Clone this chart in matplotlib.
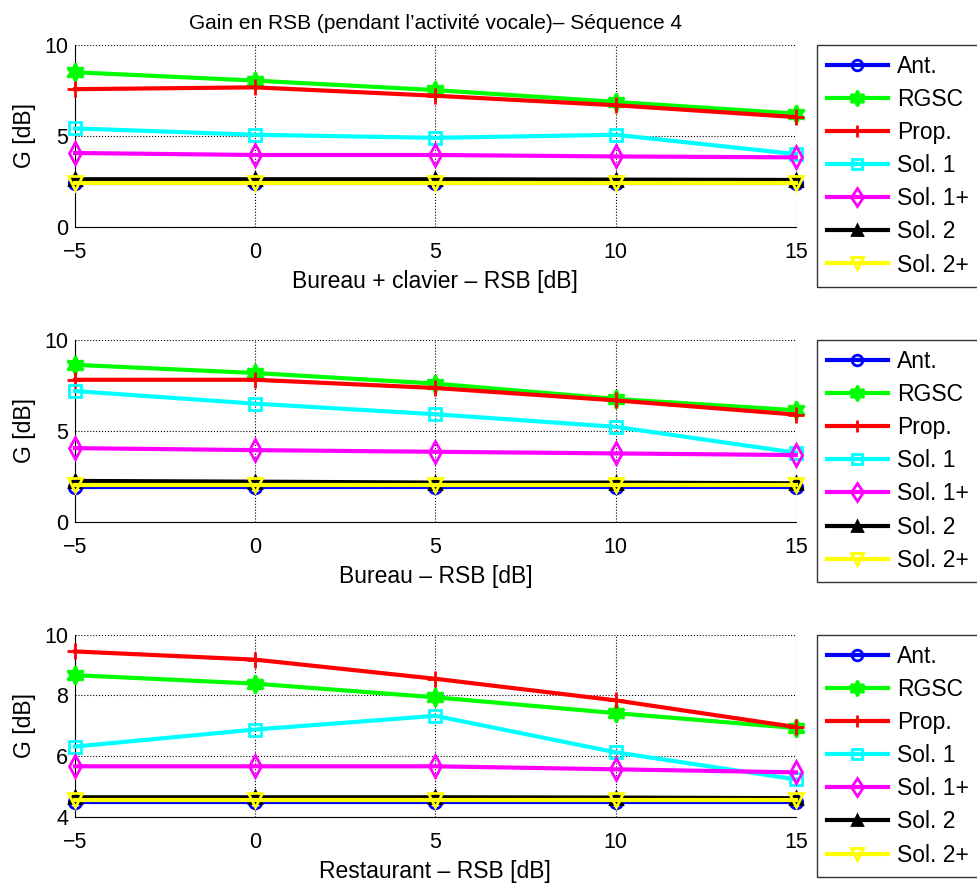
# Gain en RSB - Séquence 4 : tres subplots con leyenda a la derecha
import matplotlib
matplotlib.use("Agg")
import matplotlib.pyplot as plt
import numpy as np

plt.rcParams['font.family'] = ['Liberation Sans', 'DejaVu Sans']

rsb = [-5, 0, 5, 10, 15]

noms = ["Ant.", "RGSC", "Prop.", "Sol. 1", "Sol. 1+", "Sol. 2", "Sol. 2+"]
couleurs = ["#0000ff", "#00ff00", "#ff0000", "#00ffff", "#ff00ff", "#000000", "#ffff00"]
marqueurs = ["o", (6, 1, 0), "+", "s", "d", "^", "v"]
tailles = [9, 13, 11, 9, 11, 9, 10]
remplis = ["none", "#00ff00", "none", "none", "none", "#000000", "none"]

# Bureau + clavier
bc_ant = [2.40, 2.40, 2.40, 2.40, 2.40]
bc_rgsc = [8.49, 8.03, 7.51, 6.86, 6.22]
bc_prop = [7.56, 7.66, 7.20, 6.68, 6.03]
bc_sol1 = [5.41, 5.06, 4.89, 5.06, 4.00]
bc_sol1p = [4.06, 3.95, 3.95, 3.87, 3.82]
bc_sol2 = [2.62, 2.62, 2.62, 2.60, 2.58]
bc_sol2p = [2.44, 2.44, 2.44, 2.44, 2.44]

# Bureau
b_ant = [1.95, 1.95, 1.95, 1.95, 1.95]
b_rgsc = [8.63, 8.18, 7.60, 6.76, 6.14]
b_prop = [7.81, 7.81, 7.36, 6.68, 5.90]
b_sol1 = [7.19, 6.50, 5.92, 5.23, 3.81]
b_sol1p = [4.06, 3.95, 3.86, 3.77, 3.68]
b_sol2 = [2.26, 2.22, 2.17, 2.17, 2.13]
b_sol2p = [2.02, 2.02, 2.02, 2.02, 2.02]

# Restaurant
r_ant = [4.50, 4.50, 4.50, 4.50, 4.50]
r_rgsc = [8.67, 8.39, 7.94, 7.42, 6.93]
r_prop = [9.45, 9.18, 8.55, 7.84, 6.96]
r_sol1 = [6.32, 6.88, 7.33, 6.13, 5.24]
r_sol1p = [5.67, 5.67, 5.67, 5.57, 5.47]
r_sol2 = [4.65, 4.65, 4.65, 4.64, 4.62]
r_sol2p = [4.55, 4.55, 4.55, 4.55, 4.55]

series = [
    [bc_ant, bc_rgsc, bc_prop, bc_sol1, bc_sol1p, bc_sol2, bc_sol2p],
    [b_ant, b_rgsc, b_prop, b_sol1, b_sol1p, b_sol2, b_sol2p],
    [r_ant, r_rgsc, r_prop, r_sol1, r_sol1p, r_sol2, r_sol2p],
]
xlabels = ["Bureau + clavier \u2013 RSB [dB]", "Bureau \u2013 RSB [dB]", "Restaurant \u2013 RSB [dB]"]
ylims = [(0, 10), (0, 10), (4, 10)]
yticks = [[0, 5, 10], [0, 5, 10], [4, 6, 8, 10]]
bas = [0.7435, 0.410, 0.0768]

fig = plt.figure(figsize=(9.78, 8.85), dpi=100)

for i in range(3):
    ax = fig.add_axes([0.0767, bas[i], 0.737, 0.2060])
    for k in range(7):
        ax.plot(rsb, series[i][k], color=couleurs[k], marker=marqueurs[k],
                markersize=tailles[k], markerfacecolor=remplis[k], markeredgewidth=2,
                linewidth=3, label=noms[k], clip_on=False, zorder=3 + k)
    ax.set_xlim(-5, 15)
    ax.set_ylim(ylims[i])
    ax.set_xticks(rsb)
    ax.set_yticks(yticks[i])
    ax.grid(True, linestyle=':', color='black', linewidth=0.8)
    ax.spines['top'].set_visible(False)
    ax.spines['right'].set_visible(False)
    ax.tick_params(direction='in', labelsize=15.5, length=0)
    ax.tick_params(axis='x', pad=11)
    ax.tick_params(axis='y', pad=5)
    ax.set_xlabel(xlabels[i], fontsize=16.5, labelpad=5)
    ax.set_ylabel("G [dB]", fontsize=16.5, labelpad=6)
    leg = ax.legend(loc='upper left', bbox_to_anchor=(1.029, 1.0), borderaxespad=0,
                    fancybox=False, edgecolor='black', fontsize=16.5, numpoints=1,
                    handlelength=2.65, handletextpad=0.4, labelspacing=0.44,
                    borderpad=0.45, markerscale=0.85)
    leg.get_frame().set_linewidth(1.0)
    if i == 0:
        ax.set_title("Gain en RSB (pendant l\u2019activit\u00e9 vocale)\u2013 S\u00e9quence 4",
                     fontsize=15, pad=11)

fig.savefig("out.png", dpi=100)
